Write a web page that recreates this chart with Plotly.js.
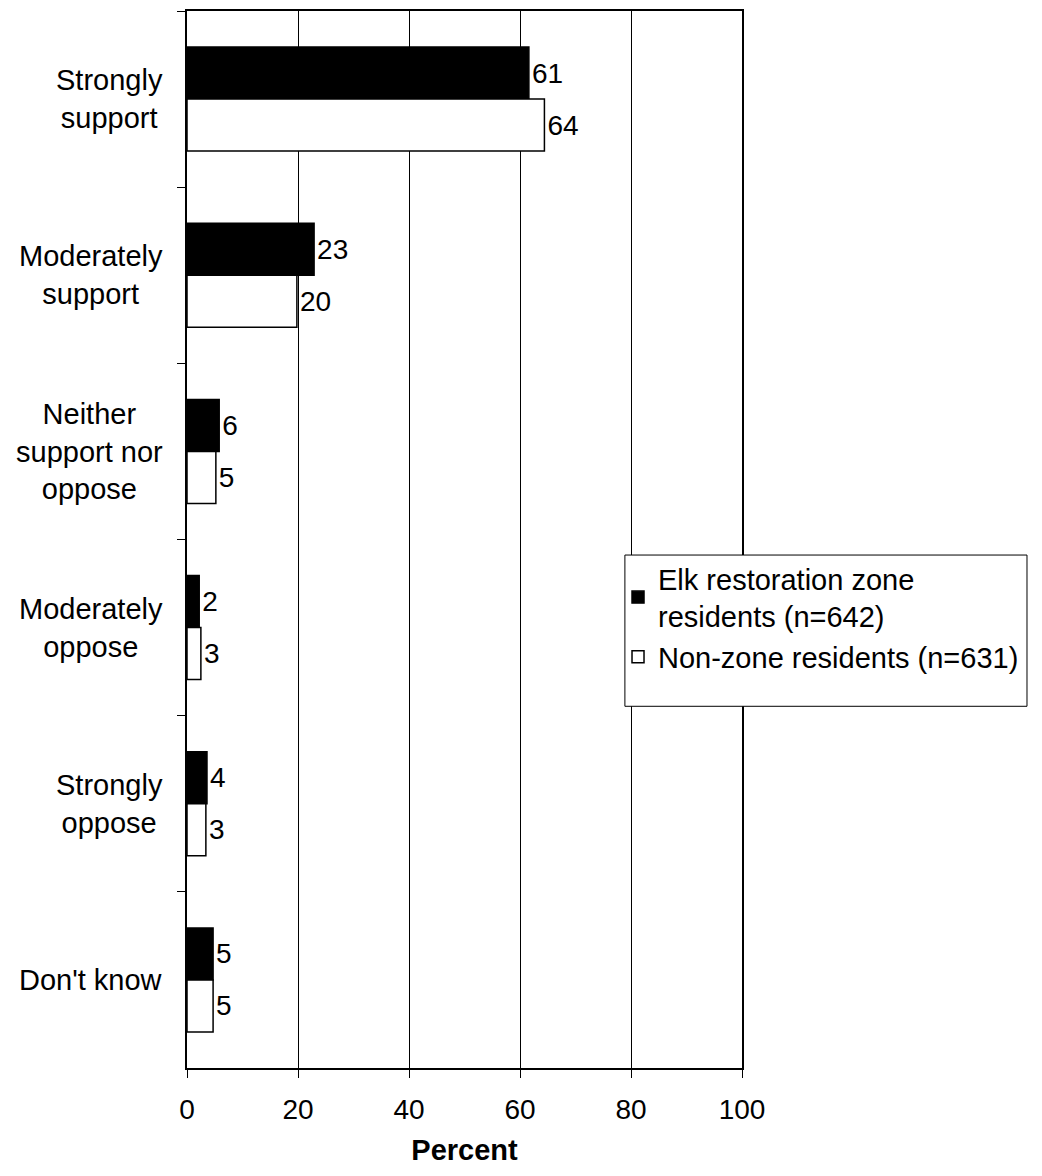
<!DOCTYPE html>
<html><head><meta charset="utf-8">
<script src="https://cdn.plot.ly/plotly-3.0.1.min.js"></script>
<style>body{margin:0;background:#fff}#chart{width:1042px;height:1176px}</style>
</head><body><div id="chart"></div>
<script>
const categories = ["Strongly<br>support","Moderately<br>support","Neither<br>support nor<br>oppose","Moderately<br>oppose","Strongly<br>oppose","Don't know"];
const zoneValues = [61.6, 22.9, 5.8, 2.2, 3.6, 4.7];
const zoneLabels = ["61","23","6","2","4","5"];
const nonZoneValues = [64.4, 19.8, 5.2, 2.5, 3.4, 4.7];
const nonZoneLabels = ["64","20","5","3","3","5"];
const seriesNames = ["Elk restoration zone<br>residents (n=642)", "Non-zone residents (n=631)"];
const xTicks = [0,20,40,60,80,100];

const fam = "Liberation Sans, Arial, sans-serif";
const font = {family: fam, size: 29, color: "#000"};
const tickFont = {family: fam, size: 28, color: "#000"};

const traces = [
  {type:"bar", orientation:"h", name: seriesNames[0], y: categories, x: zoneValues,
   text: zoneLabels, textposition:"outside", cliponaxis:false, textfont: tickFont,
   marker:{color:"#000", line:{color:"#000", width:1.5}}, hoverinfo:"none"},
  {type:"bar", orientation:"h", name: seriesNames[1], y: categories, x: nonZoneValues,
   text: nonZoneLabels, textposition:"outside", cliponaxis:false, textfont: tickFont,
   marker:{color:"#fff", line:{color:"#000", width:1.5}}, hoverinfo:"none"}
];

const annotations = categories.map(c => ({
  xref:"paper", yref:"y", x:-0.04, y:c, xanchor:"right", yanchor:"middle",
  text:c, align:"center", showarrow:false, font: font
}));

const layout = {
  width:1042, height:1176,
  margin:{l:187, r:300, t:11, b:108},
  paper_bgcolor:"#fff", plot_bgcolor:"#fff",
  font: font,
  barmode:"group", bargap:0.41, bargroupgap:0,
  showlegend:true,
  legend:{x:0.7766, y:0.4873, xanchor:"left", yanchor:"top", bgcolor:"rgba(0,0,0,0)", borderwidth:0,
          font:font, itemwidth:30, tracegroupgap:0},
  xaxis:{range:[0,100], tickvals:xTicks, ticktext:xTicks.map(String), showgrid:true, gridcolor:"#000", gridwidth:1,
         ticks:"outside", ticklen:8, tickcolor:"#000", showline:true, linecolor:"#000", linewidth:2, mirror:true,
         zeroline:false, tickfont:tickFont, ticklabelstandoff:7,
         title:{text:"<b>Percent</b>", font:font, standoff:16}},
  yaxis:{type:"category", autorange:"reversed", showticklabels:false, ticks:"outside", ticklen:8, tickcolor:"#000",
         tickson:"boundaries", showline:true, linecolor:"#000", linewidth:2, mirror:true, showgrid:false, zeroline:false},
  annotations: annotations,
  shapes:[{type:"rect", xref:"paper", yref:"paper", x0:0.789, x1:1.5135, y0:0.3422, y1:0.4853,
           line:{color:"#000", width:1}, fillcolor:"#fff", layer:"above"}]
};

Plotly.newPlot("chart", traces, layout, {staticPlot:true});
</script></body></html>
